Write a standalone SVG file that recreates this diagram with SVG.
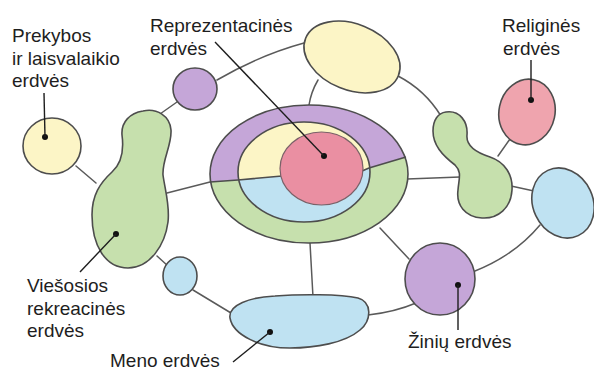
<svg xmlns="http://www.w3.org/2000/svg" width="594" height="372" viewBox="0 0 594 372">
<style>
.o{stroke:#4d4d4d;stroke-width:1.6;}
.c{fill:none;stroke:#5a5a5a;stroke-width:1.5;stroke-linecap:round;}
.p{fill:none;stroke:#1e1e1e;stroke-width:1.4;}
.d{fill:#111;}
.t{font-family:"Liberation Sans",Arial,sans-serif;font-size:19px;fill:#1e1e1e;}
.y{fill:#fcf5c6;}
.g{fill:#c6e0ad;}
.b{fill:#bfe2f2;}
.v{fill:#c5a6d8;}
.r{fill:#ea8fa2;}
.r2{fill:#efa4ae;}
</style>
<defs>
<clipPath id="top"><polygon points="190,183 238,180 280,176 362,171 369,168 412,155 412,90 190,90"/></clipPath>
<clipPath id="bot"><polygon points="190,183 238,180 280,176 362,171 369,168 412,155 412,260 190,260"/></clipPath>
</defs>
<rect width="594" height="372" fill="#ffffff"/>
<g id="connectors">
<path class="c" d="M76,166 L96,183"/>
<path class="c" d="M177,102 L160,114"/>
<path class="c" d="M217,80 Q260,55 304,43"/>
<path class="c" d="M318,80 Q311,92 309,105"/>
<path class="c" d="M398,76 Q425,90 441,116"/>
<path class="c" d="M167,193 L210,182"/>
<path class="c" d="M407,179 L460,177"/>
<path class="c" d="M498,156 L510,139"/>
<path class="c" d="M511,186 L534,191"/>
<path class="c" d="M540,225 Q515,255 475,271"/>
<path class="c" d="M380,228 L409,259"/>
<path class="c" d="M310,243 L313,297"/>
<path class="c" d="M368,315 Q395,312 416,303"/>
<path class="c" d="M157,256 L168,266"/>
<path class="c" d="M193,290 L231,313"/>
</g>
<g id="reprezentacines">
<ellipse class="v" cx="309" cy="174" rx="99" ry="69" clip-path="url(#top)"/>
<ellipse class="g" cx="309" cy="174" rx="99" ry="69" clip-path="url(#bot)"/>
<ellipse class="y" cx="304" cy="172" rx="66" ry="50" clip-path="url(#top)"/>
<ellipse class="b" cx="304" cy="172" rx="66" ry="50" clip-path="url(#bot)"/>
<ellipse class="o" fill="none" cx="309" cy="174" rx="99" ry="69"/>
<ellipse class="o" fill="none" cx="304" cy="172" rx="66" ry="50"/>
<path class="o" fill="none" d="M210,182 L238,180 L282,176 M362,171 L369,168 L406,157"/>
<ellipse class="r" cx="321.5" cy="168.5" rx="41.5" ry="36.5" stroke="#7a6168" stroke-width="1.2"/>
<circle class="d" cx="324" cy="156" r="3"/>
<path class="p" d="M215,42 L324,156"/>
<text class="t" x="150" y="32">Reprezentacinės</text>
<text class="t" x="150" y="55">erdvės</text>
</g>
<g id="prekybos">
<ellipse class="o y" cx="52" cy="146" rx="29" ry="28"/>
<circle class="d" cx="45" cy="137" r="3"/>
<path class="p" d="M44,93 L45,137"/>
<text class="t" x="12" y="42">Prekybos</text>
<text class="t" x="12" y="65">ir laisvalaikio</text>
<text class="t" x="12" y="87">erdvės</text>
</g>
<g id="purple-small">
<ellipse class="o v" cx="195" cy="89" rx="22" ry="21"/>
</g>
<g id="yellow-top">
<ellipse class="o y" cx="352" cy="57" rx="50" ry="33" transform="rotate(22 352 57)"/>
</g>
<g id="viesosios">
<path class="o g" d="M143,111 C157,108 170,116 171,130 C172,145 162,160 163,175 C165,190 170,205 168,222 C165,245 150,268 128,268 C105,268 92,245 92,215 C92,195 100,183 112,172 C122,163 124,150 122,135 C121,122 130,113 143,111 Z"/>
<circle class="d" cx="116" cy="234" r="3"/>
<path class="p" d="M116,234 L80,272"/>
<text class="t" x="27" y="292">Viešosios</text>
<text class="t" x="27" y="315">rekreacinės</text>
<text class="t" x="27" y="337">erdvės</text>
</g>
<g id="blue-small">
<ellipse class="o b" cx="180" cy="276" rx="17" ry="19"/>
</g>
<g id="meno">
<path class="o b" d="M230,318 C228,305 250,297 275,296 C300,294 340,294 358,298 C372,302 372,320 360,330 C345,343 315,348 290,348 C260,348 233,335 230,318 Z"/>
<circle class="d" cx="270" cy="332" r="3"/>
<path class="p" d="M270,332 L233,362"/>
<text class="t" x="110" y="367">Meno erdvės</text>
</g>
<g id="ziniu">
<ellipse class="o v" cx="440" cy="279" rx="35" ry="36"/>
<circle class="d" cx="458" cy="285" r="3"/>
<path class="p" d="M458,285 L458,330"/>
<text class="t" x="408" y="348">Žinių erdvės</text>
</g>
<g id="green-right">
<path class="o g" d="M446,112 C460,110 468,122 467,135 C466,145 474,152 490,157 C505,162 513,175 512,190 C511,208 498,219 482,218 C465,217 456,205 458,190 C459,178 462,172 455,165 C442,155 433,145 433,131 C433,120 438,113 446,112 Z"/>
</g>
<g id="religines">
<ellipse class="o r2" cx="527" cy="112" rx="28" ry="33" transform="rotate(12 527 112)"/>
<circle class="d" cx="531" cy="100" r="3"/>
<path class="p" d="M531,60 L531,100"/>
<text class="t" x="502" y="32">Religinės</text>
<text class="t" x="503" y="55">erdvės</text>
</g>
<g id="blue-right">
<ellipse class="o b" cx="563" cy="203" rx="30" ry="36" transform="rotate(-25 563 203)"/>
</g>
</svg>
